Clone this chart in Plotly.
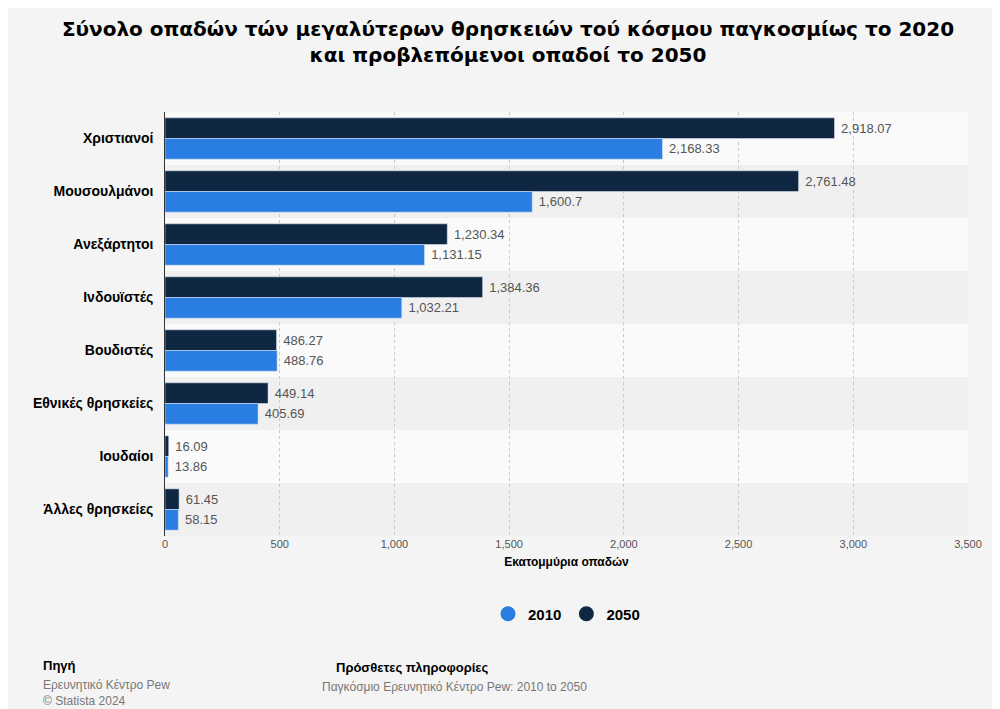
import plotly.graph_objects as go

categories = ["Χριστιανοί", "Μουσουλμάνοι", "Ανεξάρτητοι", "Ινδουϊστές", "Βουδιστές",
              "Εθνικές θρησκείες", "Ιουδαίοι", "Άλλες θρησκείες"]
values_2010 = [2168.33, 1600.7, 1131.15, 1032.21, 488.76, 405.69, 13.86, 58.15]
values_2050 = [2918.07, 2761.48, 1230.34, 1384.36, 486.27, 449.14, 16.09, 61.45]

def fmt(v):
    s = f"{v:,.2f}".rstrip("0").rstrip(".")
    return " " + s

fig = go.Figure()
fig.add_trace(go.Bar(y=categories, x=values_2050, name="2050", orientation="h",
                     marker_color="#0f2742", text=[fmt(v) for v in values_2050],
                     textposition="outside", showlegend=False))
fig.add_trace(go.Bar(y=categories, x=values_2010, name="2010", orientation="h",
                     marker_color="#2a7de1", text=[fmt(v) for v in values_2010],
                     textposition="outside", showlegend=False))
fig.update_traces(textfont=dict(color="#555555", size=13), cliponaxis=False)

# circle legend entries
fig.add_trace(go.Scatter(x=[None], y=[None], mode="markers", name="<b>2010</b>",
                         marker=dict(color="#2a7de1", size=15, symbol="circle")))
fig.add_trace(go.Scatter(x=[None], y=[None], mode="markers", name="<b>2050</b>",
                         marker=dict(color="#0f2742", size=15, symbol="circle")))

for i in range(len(categories)):
    fig.add_shape(type="rect", xref="paper", yref="y", x0=0, x1=1, y0=i - 0.5, y1=i + 0.5,
                  fillcolor="#fafafa" if i % 2 == 0 else "#f0f0f0", line_width=0, layer="below")

fig.update_layout(
    width=1000, height=709, paper_bgcolor="#f4f4f4", plot_bgcolor="#f4f4f4",
    font=dict(family="Liberation Sans, Arial", color="#000000"),
    title=dict(text="<b>Σύνολο οπαδών τών μεγαλύτερων θρησκειών τού κόσμου παγκοσμίως το 2020<br>και προβλεπόμενοι οπαδοί το 2050</b>",
               x=0.5, xanchor="center", y=0.96, yanchor="top", font=dict(size=20, family="DejaVu Sans")),
    margin=dict(l=157, r=40, t=104, b=181),
    barmode="group", bargap=0.22, bargroupgap=0.0,
    legend=dict(orientation="h", x=0.5, xanchor="center", y=-0.145, yanchor="top",
                font=dict(size=15)),
    xaxis=dict(range=[0, 3500], dtick=500, tickformat=",", gridcolor="#c8c8c8", griddash="dot",
               zeroline=False, tickfont=dict(size=11, color="#555555"), automargin=False,
               title=dict(text="<b>Εκατομμύρια οπαδών</b>", font=dict(size=12), standoff=8)),
    yaxis=dict(autorange="reversed", tickfont=dict(size=14), automargin=False,
               tickprefix="<b>", ticksuffix="</b>  ",
               showline=True, linecolor="#333333", linewidth=1),
)

fig.add_annotation(text="<b>Πηγή</b>", xref="paper", yref="paper", x=-0.155, y=-0.305,
                   xanchor="left", yanchor="middle", showarrow=False, font=dict(size=13))
fig.add_annotation(text="Ερευνητικό Κέντρο Pew<br>© Statista 2024", xref="paper", yref="paper",
                   x=-0.155, y=-0.33, xanchor="left", yanchor="top", align="left",
                   showarrow=False, font=dict(size=12, color="#777777"))
fig.add_annotation(text="<b>Πρόσθετες πληροφορίες</b>", xref="paper", yref="paper", x=0.21, y=-0.31,
                   xanchor="left", yanchor="middle", showarrow=False, font=dict(size=13))
fig.add_annotation(text="Παγκόσμιο Ερευνητικό Κέντρο Pew: 2010 to 2050", xref="paper", yref="paper",
                   x=0.193, y=-0.335, xanchor="left", yanchor="top",
                   showarrow=False, font=dict(size=12, color="#777777"))

fig.write_html("out.html")
